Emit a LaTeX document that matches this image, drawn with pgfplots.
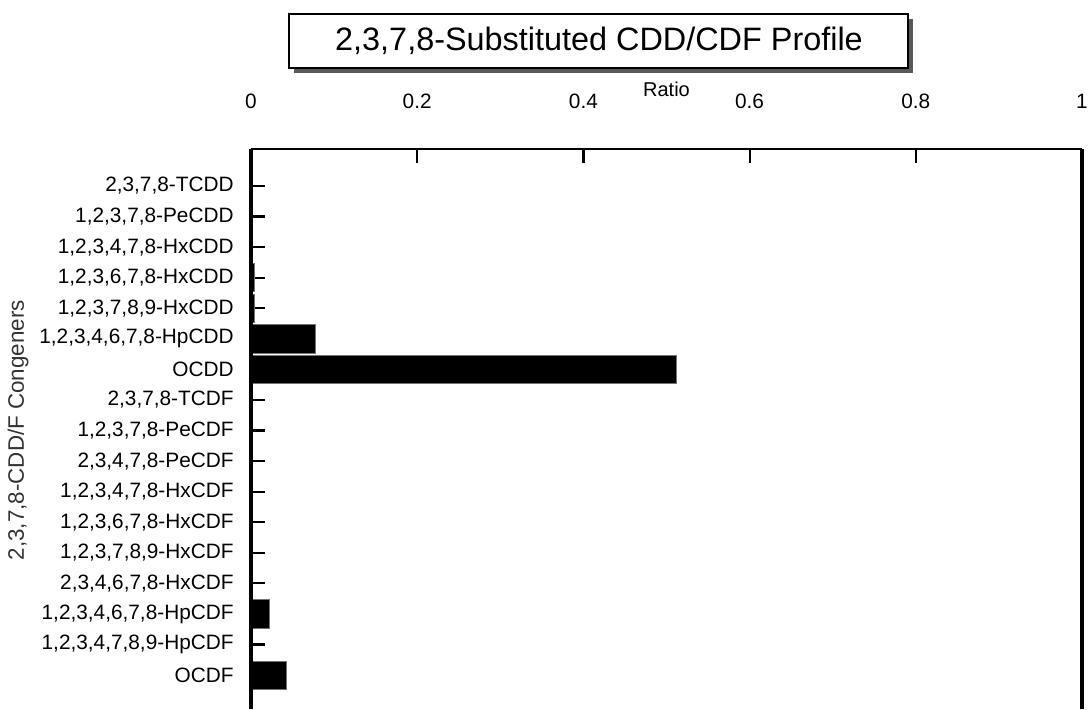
\documentclass[border=0pt]{standalone}
\usepackage{pgfplots}
\pgfplotsset{compat=1.18}
\usepackage{fontspec}
\setmainfont{Liberation Sans}
\begin{document}
\begin{tikzpicture}
\useasboundingbox (0,0) rectangle (545.5pt,-354.5pt);
% title box with shadow
\fill[black!65] (147pt,-9.5pt) rectangle (456.5pt,-36.5pt);
\draw[line width=1pt, fill=white] (144.5pt,-7pt) rectangle (454pt,-34pt);
\node[font=\fontsize{16.2}{19}\selectfont] at (299.5pt,-20.5pt) {2,3,7,8-Substituted CDD/CDF Profile};
\begin{axis}[
  at={(125.5pt,-74.5pt)}, anchor=north west,
  scale only axis, width=415.5pt, height=280pt,
  xmin=0, xmax=1, ymin=-1.21, ymax=17.11, y dir=reverse,
  clip=false,
  axis line style={draw=none},
  xtick={0,0.2,0.4,0.6,0.8,1},
  xticklabels={0,0.2,0.4,0.6,0.8,1},
  xtick pos=right, xticklabel pos=right,
  ytick={0,...,16}, ytick pos=left,
  yticklabels={{2,3,7,8-TCDD},{1,2,3,7,8-PeCDD},{1,2,3,4,7,8-HxCDD},{1,2,3,6,7,8-HxCDD},{1,2,3,7,8,9-HxCDD},{1,2,3,4,6,7,8-HpCDD},{OCDD},{2,3,7,8-TCDF},{1,2,3,7,8-PeCDF},{2,3,4,7,8-PeCDF},{1,2,3,4,7,8-HxCDF},{1,2,3,6,7,8-HxCDF},{1,2,3,7,8,9-HxCDF},{2,3,4,6,7,8-HxCDF},{1,2,3,4,6,7,8-HpCDF},{1,2,3,4,7,8,9-HpCDF},{OCDF}},
  tick align=inside, major tick length=7pt,
  every tick/.style={black, line width=1.1pt},
  /pgf/number format/assume math mode=true,
  xticklabel style={font=\fontsize{10.4}{13}\selectfont, inner sep=0pt, anchor=south, yshift=20pt},
  yticklabel style={font=\fontsize{10.4}{13}\selectfont, inner sep=0pt, anchor=east, xshift=-8.5pt},
  xlabel={Ratio},
  xlabel style={font=\fontsize{10}{12}\selectfont, at={(axis description cs:0.5,1)}, anchor=center, yshift=30pt},
  ylabel={2,3,7,8-CDD/F Congeners},
  ylabel style={font=\fontsize{11.2}{13}\selectfont, text=black!80, at={(axis description cs:0,0.498)}, anchor=center, yshift=116.5pt},
]
\addplot[xbar, bar width=0.92, fill=black, draw=black!55, line width=0.4pt] coordinates {
(0,0) (0,1) (0,2) (0.004,3) (0.004,4) (0.077,5) (0.512,6) (0,7) (0,8) (0,9) (0,10) (0,11) (0,12) (0,13) (0.022,14) (0,15) (0.043,16)
};
\draw[line width=2pt] (axis description cs:0,0) -- (axis description cs:0,1);
\draw[line width=1.3pt] (axis description cs:0,1) -- (axis description cs:1,1);
\draw[line width=1.6pt] (axis description cs:1,1) -- (axis description cs:1,0);
\end{axis}
\end{tikzpicture}
\end{document}
